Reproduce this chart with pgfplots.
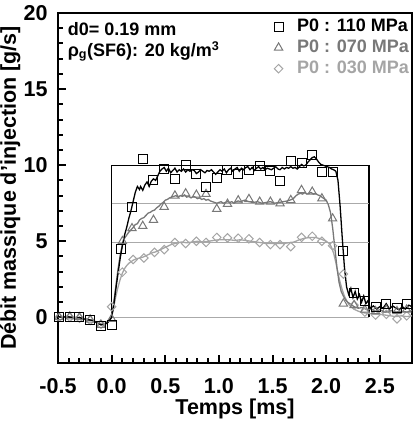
\documentclass[border=0pt]{standalone}
\usepackage{fontspec}
\setmainfont{Liberation Sans}
\usepackage{pgfplots}
\pgfplotsset{compat=1.18}

\definecolor{gMid}{RGB}{120,120,120}
\definecolor{gLight}{RGB}{165,165,165}
\definecolor{gRef}{RGB}{170,170,170}

\begin{document}
\begin{tikzpicture}
\begin{axis}[
  name=ax,
  scale only axis,
  width=354pt, height=350pt,
  xmin=-0.5, xmax=2.8,
  ymin=-3, ymax=20,
  xtick={-0.5,0,0.5,1,1.5,2,2.5},
  ytick={0,5,10,15,20},
  minor x tick num=4,
  minor y tick num=4,
  xtick pos=bottom, ytick pos=left,
  tick align=inside,
  major tick length=8pt,
  minor tick length=5pt,
  every tick/.style={black, line width=2pt},
  axis line style={line width=2.5pt},
  /pgf/number format/assume math mode=true,
  ticklabel style={font=\bfseries\fontsize{21.5}{24}\selectfont},
  xticklabel style={yshift=-12pt, /pgf/number format/.cd, fixed, fixed zerofill, precision=1},
  yticklabel style={xshift=-7pt},
  xlabel={Temps [ms]},
  ylabel={Débit massique d'injection [g/s]},
  every axis x label/.style={at={(rel axis cs:0.5,0)}, anchor=north, yshift=-36pt,
    inner sep=0pt, font=\bfseries\fontsize{21.5}{24}\selectfont},
  every axis y label/.style={at={(rel axis cs:0,0.5)}, xshift=-58pt, rotate=90, anchor=north,
    inner sep=0pt, font=\bfseries\fontsize{21.5}{24}\selectfont},
  legend style={at={(1,1)}, anchor=north east, xshift=-2pt, yshift=-3pt,
    draw=none, fill=none, inner xsep=0pt, inner ysep=0pt,
    font=\bfseries\fontsize{18}{20}\selectfont,
    nodes={inner sep=1pt, text height=14pt, text depth=5pt},
    /tikz/every odd column/.append style={column sep=13pt},
    legend cell align=left},
  clip=true,
]
% ideal rectangular injection profiles
\addplot[black, line width=1.2pt, forget plot] coordinates {(0,0) (0,10) (2.4,10) (2.4,0)};
\addplot[gRef, line width=1.2pt, forget plot] coordinates {(0,7.5) (2.4,7.5)};
\addplot[gRef, line width=1.2pt, forget plot] coordinates {(0,4.9) (2.4,4.9)};
\addplot[gRef, line width=1.2pt, forget plot] coordinates {(0,0) (2.4,0)};

% P0 = 030 MPa, measured trace
\addplot[gLight, line width=1.3pt, forget plot] coordinates {
(-0.50,0.05) (-0.46,0.0) (-0.42,0.03) (-0.38,0.0) (-0.34,-0.05) (-0.30,0.0)
(-0.26,-0.1) (-0.22,-0.15) (-0.18,-0.2) (-0.14,-0.3) (-0.10,-0.45) (-0.06,-0.4)
(-0.03,-0.2) (0.00,0.1) (0.02,0.7) (0.04,1.4) (0.06,2.0) (0.08,2.5) (0.10,2.9)
(0.12,3.2) (0.14,3.4) (0.16,3.55) (0.18,3.65) (0.20,3.75) (0.23,3.85) (0.26,3.9)
(0.29,3.95) (0.32,4.05) (0.35,4.15) (0.38,4.25) (0.41,4.3) (0.44,4.4) (0.47,4.5)
(0.50,4.6) (0.53,4.7) (0.56,4.8) (0.59,4.85) (0.62,4.9) (0.65,4.95) (0.70,4.9)
(0.75,4.95) (0.80,5.0) (0.85,4.95) (0.90,5.0) (0.95,5.05) (1.00,5.1) (1.05,5.1)
(1.10,5.1) (1.15,5.05) (1.20,5.1) (1.25,5.05) (1.30,5.0) (1.35,4.95) (1.40,4.9)
(1.45,4.85) (1.50,4.85) (1.55,4.85) (1.60,4.85) (1.65,4.9) (1.70,4.95) (1.75,5.1)
(1.80,5.2) (1.85,5.25) (1.90,5.25) (1.95,5.15) (2.00,5.0) (2.03,4.85) (2.05,4.6)
(2.07,4.2) (2.09,3.6) (2.11,2.9) (2.13,2.3) (2.15,1.8) (2.17,1.4) (2.19,1.1)
(2.21,0.85) (2.24,0.65) (2.27,0.5) (2.30,0.4) (2.35,0.3) (2.40,0.25) (2.45,0.2)
(2.50,0.2) (2.55,0.15) (2.60,0.1) (2.65,0.05) (2.70,0.1) (2.75,0.05) (2.80,0.1)
};
\addplot[only marks, mark=square, mark size=3pt, gLight,
  mark options={rotate=45, line width=1pt, fill=none}, forget plot] coordinates {
(-0.49,0.0) (-0.39,0.0) (-0.30,-0.05) (-0.20,-0.2) (-0.10,-0.45) (0.00,0.7)
(0.10,2.97) (0.20,3.8) (0.30,3.9) (0.40,4.27) (0.49,4.45) (0.59,4.92) (0.69,4.85)
(0.79,5.0) (0.88,4.92) (0.98,5.25) (1.08,5.22) (1.18,5.2) (1.28,5.16) (1.38,4.92)
(1.48,4.78) (1.57,4.78) (1.67,4.65) (1.77,5.26) (1.87,5.33) (1.96,5.0) (2.06,4.7)
(2.16,2.85) (2.26,0.8) (2.36,0.35) (2.46,0.15) (2.56,0.2) (2.66,-0.1) (2.75,0.1)
};

% P0 = 070 MPa, measured trace
\addplot[gMid, line width=1.3pt, forget plot] coordinates {
(-0.50,0.0) (-0.46,0.05) (-0.42,0.0) (-0.38,0.05) (-0.34,0.0) (-0.30,-0.05)
(-0.26,-0.1) (-0.22,-0.2) (-0.18,-0.2) (-0.14,-0.35) (-0.10,-0.45) (-0.06,-0.45)
(-0.03,-0.3) (0.00,0.0) (0.02,1.0) (0.04,2.1) (0.06,3.2) (0.08,4.1) (0.10,4.8)
(0.12,5.2) (0.14,5.4) (0.16,5.6) (0.18,5.75) (0.20,5.9) (0.22,6.1) (0.24,6.15)
(0.26,6.4) (0.28,6.5) (0.30,6.55) (0.32,6.7) (0.34,6.85) (0.36,6.9) (0.38,7.0)
(0.40,7.05) (0.42,7.2) (0.44,7.3) (0.46,7.45) (0.48,7.55) (0.50,7.7) (0.52,7.75)
(0.54,7.85) (0.56,7.9) (0.58,7.95) (0.60,8.0) (0.62,7.9) (0.64,8.0) (0.66,7.95)
(0.68,8.05) (0.70,7.9) (0.72,7.95) (0.74,7.85) (0.76,7.95) (0.78,7.9) (0.80,7.8)
(0.82,7.85) (0.84,7.75) (0.86,7.8) (0.88,7.7) (0.90,7.75) (0.92,7.65) (0.94,7.6)
(0.96,7.55) (0.98,7.5) (1.00,7.55) (1.02,7.6) (1.04,7.5) (1.06,7.55) (1.08,7.6)
(1.10,7.55) (1.12,7.6) (1.14,7.5) (1.16,7.6) (1.18,7.65) (1.20,7.6) (1.24,7.7)
(1.28,7.6) (1.32,7.55) (1.36,7.6) (1.40,7.5) (1.44,7.55) (1.48,7.6) (1.52,7.5)
(1.56,7.55) (1.60,7.6) (1.64,7.65) (1.68,7.75) (1.70,7.85) (1.72,8.0) (1.74,8.1)
(1.76,8.15) (1.78,8.1) (1.80,8.2) (1.82,8.1) (1.84,8.15) (1.86,8.2) (1.88,8.1)
(1.90,8.15) (1.92,8.05) (1.94,8.0) (1.96,7.9) (1.98,7.8) (2.00,7.7) (2.02,7.4)
(2.04,6.9) (2.06,5.9) (2.08,4.6) (2.10,3.3) (2.12,2.3) (2.14,1.7) (2.16,1.4)
(2.18,1.15) (2.20,1.0) (2.23,0.85) (2.26,0.7) (2.30,0.6) (2.34,0.65) (2.38,0.5)
(2.42,0.55) (2.46,0.4) (2.50,0.5) (2.55,0.35) (2.60,0.45) (2.65,0.35) (2.70,0.4)
(2.75,0.35) (2.80,0.45)
};
\addplot[only marks, mark=triangle, mark size=4.8pt, gMid,
  mark options={line width=1pt, fill=none}, forget plot] coordinates {
(-0.49,0.0) (-0.39,0.05) (-0.30,0.0) (-0.20,-0.15) (-0.10,-0.5) (0.00,-0.1)
(0.10,5.0) (0.19,5.85) (0.29,6.0) (0.39,6.4) (0.49,7.26) (0.59,8.0) (0.69,8.14)
(0.79,8.05) (0.88,8.1) (0.98,7.12) (1.08,7.45) (1.18,7.68) (1.28,7.77) (1.38,7.59)
(1.48,7.59) (1.57,7.48) (1.67,7.7) (1.77,8.36) (1.87,8.25) (1.96,7.81) (2.06,6.49)
(2.16,0.9) (2.26,0.8) (2.36,0.5) (2.46,0.4) (2.56,0.5) (2.66,0.4) (2.75,0.5)
};

% P0 = 110 MPa, measured trace
\addplot[black, line width=1.3pt, forget plot] coordinates {
(-0.50,0.05) (-0.46,0.0) (-0.42,0.05) (-0.38,0.0) (-0.34,-0.05) (-0.30,0.0)
(-0.26,-0.1) (-0.22,-0.15) (-0.18,-0.2) (-0.14,-0.35) (-0.10,-0.5) (-0.06,-0.45)
(-0.03,-0.3) (0.00,0.0) (0.02,0.8) (0.04,1.9) (0.06,2.9) (0.08,3.9) (0.10,4.7)
(0.12,5.4) (0.14,5.9) (0.16,6.5) (0.18,7.0) (0.20,7.6) (0.22,8.2) (0.24,8.6)
(0.26,8.4) (0.27,8.6) (0.29,8.35) (0.31,8.7) (0.33,8.9) (0.35,8.6) (0.37,8.95)
(0.39,9.1) (0.41,9.0) (0.43,9.3) (0.45,9.6) (0.47,9.75) (0.49,9.85) (0.51,9.6)
(0.53,9.8) (0.55,9.5) (0.57,9.65) (0.59,9.8) (0.61,9.55) (0.63,9.7) (0.65,9.6)
(0.67,9.75) (0.69,9.55) (0.71,9.7) (0.73,9.6) (0.75,9.7) (0.77,9.65) (0.79,9.45)
(0.81,9.55) (0.83,9.7) (0.85,9.6) (0.87,9.5) (0.89,9.65) (0.91,9.6) (0.93,9.7)
(0.95,9.55) (0.97,9.4) (0.99,9.55) (1.01,9.7) (1.03,9.6) (1.05,9.75) (1.07,9.5)
(1.09,9.7) (1.11,9.8) (1.13,9.6) (1.15,9.75) (1.17,9.85) (1.19,9.6) (1.21,9.8)
(1.23,9.7) (1.25,9.85) (1.27,9.9) (1.29,9.7) (1.31,9.85) (1.33,9.65) (1.35,9.8)
(1.37,9.9) (1.39,9.75) (1.41,9.85) (1.43,9.7) (1.45,9.8) (1.47,9.75) (1.49,9.7)
(1.51,9.8) (1.53,9.9) (1.55,9.75) (1.57,9.7) (1.59,9.85) (1.61,9.75) (1.63,9.85)
(1.65,9.8) (1.67,9.9) (1.69,9.8) (1.71,9.85) (1.73,9.75) (1.75,9.9) (1.77,10.05)
(1.79,9.95) (1.81,10.0) (1.83,10.2) (1.85,10.35) (1.87,10.5) (1.89,10.55)
(1.91,10.4) (1.93,10.2) (1.95,10.05) (1.97,10.0) (1.99,9.95) (2.01,9.9)
(2.03,9.85) (2.05,9.75) (2.07,9.7) (2.09,9.6) (2.11,9.0) (2.13,7.3) (2.15,5.2)
(2.17,3.3) (2.19,2.0) (2.21,1.5) (2.23,1.9) (2.25,1.3) (2.27,1.7) (2.29,1.2)
(2.31,1.5) (2.33,1.0) (2.35,1.4) (2.37,0.9) (2.39,1.1) (2.41,0.6) (2.44,0.75)
(2.47,0.55) (2.50,0.7) (2.53,0.6) (2.56,0.9) (2.59,0.55) (2.62,0.75) (2.65,0.6)
(2.68,0.5) (2.71,0.7) (2.74,0.55) (2.77,0.8) (2.80,0.7)
};
\addplot[only marks, mark=square, mark size=4.5pt, black,
  mark options={line width=1pt, fill=none}, forget plot] coordinates {
(-0.49,0.0) (-0.39,0.05) (-0.30,0.0) (-0.20,-0.2) (-0.10,-0.55) (0.00,-0.5)
(0.09,4.5) (0.19,7.26) (0.29,10.4) (0.39,9.0) (0.49,9.78) (0.59,9.08) (0.69,10.04)
(0.79,9.39) (0.88,8.57) (0.98,9.17) (1.08,9.67) (1.18,9.39) (1.28,9.67) (1.38,9.93)
(1.48,9.6) (1.57,8.95) (1.67,10.28) (1.77,10.15) (1.87,10.68) (1.96,9.56) (2.06,9.52)
(2.16,4.39) (2.26,1.6) (2.36,1.1) (2.46,0.7) (2.56,0.9) (2.66,0.6) (2.75,0.9)
};

% legend entries
\addlegendimage{only marks, mark=square, mark size=4.5pt, black, mark options={line width=1pt}}
\addlegendentry{P0 : 110 MPa}
\addlegendimage{only marks, mark=triangle, mark size=4.8pt, gMid, mark options={line width=1pt}}
\addlegendentry{\textcolor{gMid}{P0 : 070 MPa}}
\addlegendimage{only marks, mark=square, mark size=3pt, gLight, mark options={rotate=45, line width=1pt}}
\addlegendentry{\textcolor{gLight}{P0 : 030 MPa}}

% test conditions
\node[anchor=base west, inner sep=0pt, font=\bfseries\fontsize{18}{20}\selectfont]
  at (axis cs:-0.41,18.5) {d0= 0.19 mm};
\node[anchor=base west, inner sep=0pt, font=\bfseries\fontsize{18}{20}\selectfont]
  at (axis cs:-0.41,17.15) {ρ\textsubscript{g}(SF6): 20 kg/m\textsuperscript{3}};
\end{axis}
\pgfresetboundingbox
\path[use as bounding box] ([shift={(-58pt,-62pt)}]ax.south west) rectangle ([shift={(2pt,13pt)}]ax.north east);
\end{tikzpicture}
\end{document}
